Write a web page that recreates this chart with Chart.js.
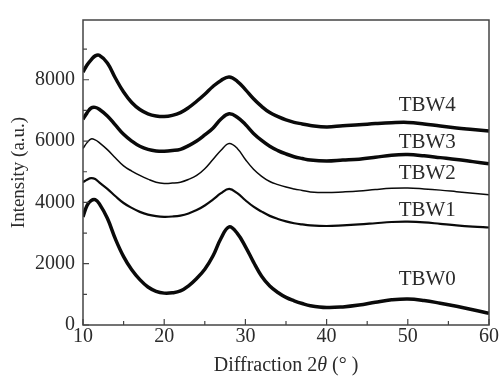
<!DOCTYPE html>
<html>
<head>
<meta charset="utf-8">
<title>XRD</title>
<script src="https://cdn.jsdelivr.net/npm/chart.js@4.4.1/dist/chart.umd.min.js"></script>
<style>
  html, body { margin: 0; padding: 0; background: #fff; }
  #wrap { width: 501px; height: 378px; }
</style>
</head>
<body>
<div id="wrap"><canvas id="xrd" width="501" height="378"></canvas></div>
<script>
// 2theta positions (deg)
const twoTheta = [10, 10.5, 11, 11.5, 12, 13, 14, 15, 16, 17, 18, 19, 20, 21, 22, 23, 24, 25, 26, 27, 28, 29, 30,
  31, 32, 33, 34, 35, 36, 37, 38, 40, 42, 44, 46, 48, 50, 52, 54, 56, 58, 60];

// intensities (a.u.)
const tbw4 = [8250, 8480, 8650, 8780, 8800, 8550, 8050, 7600, 7260, 7030, 6890, 6820, 6800, 6840, 6930, 7090, 7300, 7530, 7780, 7980, 8090, 7950, 7680,
  7380, 7130, 6930, 6800, 6690, 6610, 6560, 6510, 6460, 6500, 6530, 6570, 6600, 6610, 6560, 6490, 6430, 6380, 6330];
const tbw3 = [6710, 6920, 7080, 7100, 7040, 6820, 6520, 6220, 6000, 5830, 5730, 5680, 5670, 5690, 5730, 5850, 6000, 6200, 6420, 6720, 6890, 6780, 6540,
  6250, 6020, 5830, 5690, 5580, 5490, 5430, 5380, 5350, 5380, 5410, 5470, 5540, 5560, 5520, 5460, 5400, 5330, 5260];
const tbw2 = [5760, 5950, 6070, 6040, 5950, 5720, 5450, 5190, 5020, 4880, 4760, 4660, 4620, 4630, 4660, 4750, 4880, 5100, 5400, 5700, 5920, 5760, 5400,
  5080, 4850, 4680, 4580, 4500, 4440, 4390, 4340, 4320, 4340, 4370, 4420, 4460, 4470, 4440, 4400, 4350, 4300, 4250];
const tbw1 = [4660, 4740, 4790, 4760, 4650, 4440, 4200, 3980, 3820, 3690, 3600, 3550, 3530, 3540, 3570, 3640, 3750, 3900, 4090, 4300, 4440, 4300, 4070,
  3860, 3700, 3560, 3460, 3380, 3320, 3280, 3250, 3230, 3250, 3280, 3320, 3360, 3370, 3350, 3300, 3250, 3210, 3180];
const tbw0 = [3530, 3900, 4060, 4090, 3960, 3480, 2800, 2230, 1800, 1480, 1240, 1100, 1040, 1050, 1110, 1280, 1520, 1820, 2250, 2830, 3200, 2990, 2560,
  2050, 1590, 1270, 1060, 900, 790, 700, 630, 570, 590, 650, 740, 820, 850, 800, 710, 610, 500, 380];

const seriesNames = ['TBW4', 'TBW3', 'TBW2', 'TBW1', 'TBW0'];
const seriesValues = [tbw4, tbw3, tbw2, tbw1, tbw0];

const xTicks = [10, 20, 30, 40, 50, 60];
const yTicks = [0, 2000, 4000, 6000, 8000];

// curve labels, placed in data units
const labelSpots = [[52.4, 7150], [52.4, 5950], [52.4, 4950], [52.4, 3720], [52.4, 1480]];
const widths = [3.5, 3.5, 1.5, 2.2, 3.5];

const serif = '"Liberation Serif", "DejaVu Serif", serif';
const ink = '#2b2b2b';

const datasets = seriesValues.map((vals, i) => ({
  label: seriesNames[i],
  data: vals.map((v, j) => ({ x: twoTheta[j], y: v })),
  borderColor: '#0a0a0a',
  borderWidth: widths[i],
  pointRadius: 0,
  tension: 0.4,
  fill: false
}));

// frame, inward ticks, curve labels and the x title with italic theta
const decor = {
  id: 'decor',
  afterDraw(chart) {
    const { ctx, chartArea: a, scales: { x, y } } = chart;
    ctx.save();
    ctx.strokeStyle = '#444';
    ctx.lineWidth = 1.5;
    ctx.strokeRect(a.left, a.top, a.right - a.left, a.bottom - a.top);

    ctx.lineWidth = 1.2;
    ctx.beginPath();
    for (let v = 10; v <= 60; v += 5) {
      const px = x.getPixelForValue(v);
      const len = v % 10 === 0 ? 6 : 4;
      ctx.moveTo(px, a.bottom); ctx.lineTo(px, a.bottom - len);
    }
    for (let v = 0; v <= 9000; v += 1000) {
      const py = y.getPixelForValue(v);
      const len = v % 2000 === 0 ? 6 : 4;
      ctx.moveTo(a.left, py); ctx.lineTo(a.left + len, py);
    }
    ctx.stroke();

    ctx.fillStyle = ink;
    ctx.font = '21px ' + serif;
    ctx.textAlign = 'center';
    ctx.textBaseline = 'middle';
    labelSpots.forEach((p, i) => {
      ctx.fillText(seriesNames[i], x.getPixelForValue(p[0]), y.getPixelForValue(p[1]));
    });

    // x axis title
    const parts = [['Diffraction 2', '20px ' + serif], ['θ', 'italic 20px ' + serif], [' (° )', '20px ' + serif]];
    let total = 0;
    parts.forEach(p => { ctx.font = p[1]; total += ctx.measureText(p[0]).width; });
    let cx = (a.left + a.right) / 2 - total / 2;
    ctx.textAlign = 'left';
    parts.forEach(p => {
      ctx.font = p[1];
      ctx.fillText(p[0], cx, 366);
      cx += ctx.measureText(p[0]).width;
    });
    ctx.restore();
  }
};

new Chart(document.getElementById('xrd'), {
  type: 'line',
  data: { datasets },
  options: {
    responsive: false,
    animation: false,
    layout: { padding: { left: 0, top: 9, right: 12, bottom: 0 } },
    plugins: { legend: { display: false }, tooltip: { enabled: false } },
    scales: {
      x: {
        type: 'linear',
        min: 10,
        max: 60,
        afterBuildTicks: s => { s.ticks = xTicks.map(v => ({ value: v })); },
        afterFit: s => { s.height = 53; },
        grid: { display: false, drawTicks: false },
        border: { display: false },
        ticks: { color: ink, font: { family: serif, size: 20 }, padding: 0, callback: v => String(v) }
      },
      y: {
        min: 0,
        max: 9950,
        afterBuildTicks: s => { s.ticks = yTicks.map(v => ({ value: v })); },
        afterFit: s => { s.width = 83; },
        grid: { display: false, drawTicks: false },
        border: { display: false },
        title: { display: true, text: 'Intensity (a.u.)', color: ink, font: { family: serif, size: 19 }, padding: { top: 8, bottom: 0 } },
        ticks: { color: ink, font: { family: serif, size: 20 }, padding: 8, callback: v => String(v) }
      }
    }
  },
  plugins: [decor]
});
</script>
</body>
</html>
